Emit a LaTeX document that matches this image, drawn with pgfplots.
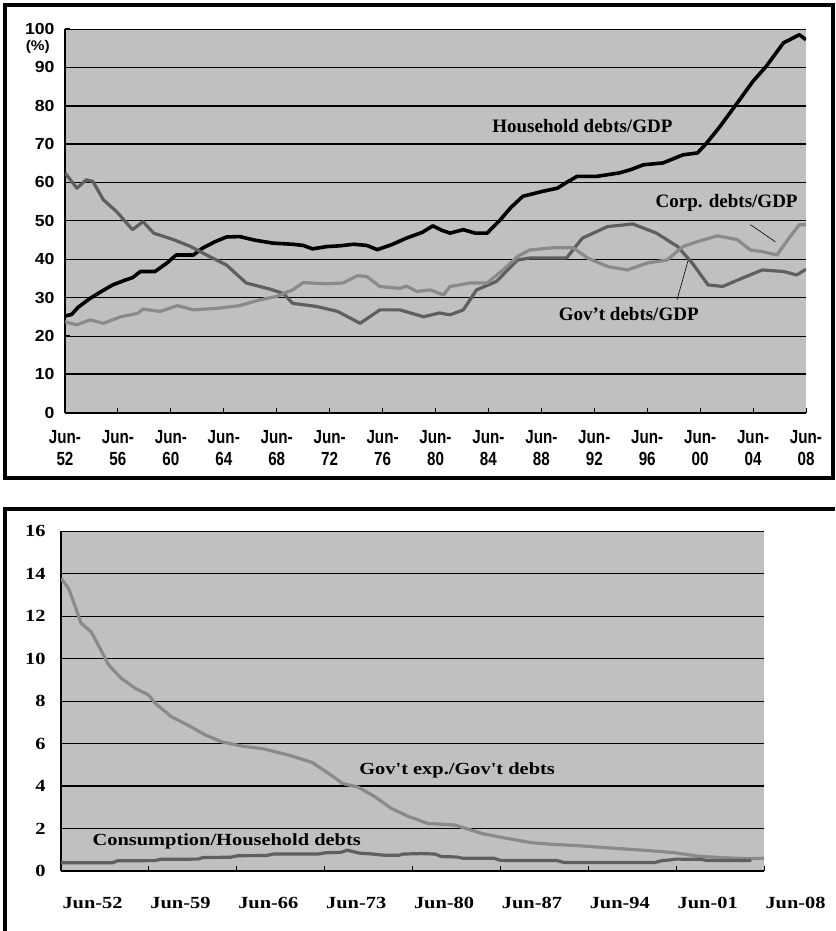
\documentclass[border=0pt]{standalone}
\usepackage{fontspec}
\usepackage{pgfplots}
\pgfplotsset{compat=1.18}
\setmainfont{Liberation Serif}
\newfontfamily\ysans[FakeStretch=1.1]{Liberation Sans}
\newfontfamily\xsans[FakeStretch=0.8]{Liberation Sans}
\newfontfamily\wserif[FakeStretch=1.2]{Liberation Serif}
\definecolor{plotbg}{HTML}{C0C0C0}
\definecolor{darkc}{HTML}{5F5F5F}
\definecolor{lightc}{HTML}{8A8A8A}

\begin{document}
\begin{tikzpicture}[x=1pt,y=1pt]
\useasboundingbox (0,0) rectangle (835,-931);

% ---------------- top panel ----------------
\begin{axis}[
  at={(65pt,-412.7pt)}, anchor=south west,
  width=741pt, height=383.7pt, scale only axis,
  xmin=1952.5, xmax=2008.5, ymin=0, ymax=100,
  axis x line*=bottom, axis y line*=left,
  axis line style={line width=1.6pt,-},
  axis background/.style={fill=plotbg},
  ymajorgrids, grid style={black, line width=0.8pt},
  ytick={0,10,...,100},
  extra y ticks={10,70,80}, extra y tick labels={},
  extra y tick style={grid style={black,line width=1.8pt}},
  xtick={1952.5,1956.5,1960.5,1964.5,1968.5,1972.5,1976.5,1980.5,1984.5,1988.5,1992.5,1996.5,2000.5,2004.5,2008.5},
  xticklabels={{Jun-\\52},{Jun-\\56},{Jun-\\60},{Jun-\\64},{Jun-\\68},{Jun-\\72},{Jun-\\76},{Jun-\\80},{Jun-\\84},{Jun-\\88},{Jun-\\92},{Jun-\\96},{Jun-\\00},{Jun-\\04},{Jun-\\08}},
  tick align=inside, major tick length=5pt, tick style={black,line width=1pt},
  /pgf/number format/assume math mode=true,
  yticklabel style={font=\ysans\bfseries\fontsize{16}{18}\selectfont, xshift=-7pt},
  xticklabel style={font=\xsans\bfseries\fontsize{19}{22}\selectfont, align=center, yshift=-14pt},
  every axis plot/.append style={line join=round},
]
\addplot[black, line width=3.6pt] coordinates {
(1952.5,25.2)(1953.0,25.6)(1953.5,27.5)(1954.4,29.8)(1955.2,31.5)(1956.1,33.3)
(1957.0,34.5)(1957.6,35.2)(1958.2,36.8)(1959.3,36.8)(1960.2,39.0)(1960.9,41.1)
(1962.2,41.1)(1962.9,42.9)(1963.8,44.5)(1964.7,45.8)(1965.7,45.9)(1966.8,45.0)
(1968.2,44.2)(1969.7,43.9)(1970.5,43.6)(1971.2,42.7)(1972.3,43.3)(1973.3,43.5)
(1974.3,43.9)(1975.3,43.6)(1976.1,42.5)(1977.2,43.8)(1978.3,45.5)(1979.5,47.0)
(1980.3,48.7)(1981.0,47.5)(1981.6,46.8)(1982.6,47.7)(1983.5,46.8)(1984.4,46.8)
(1985.4,50.3)(1986.2,53.5)(1987.1,56.4)(1988.6,57.7)(1989.7,58.5)(1990.4,60.0)
(1991.2,61.6)(1992.7,61.6)(1994.4,62.5)(1995.3,63.4)(1996.2,64.6)(1997.7,65.1)
(1999.2,67.2)(2000.3,67.7)(2001.0,70.3)(2002.0,74.6)(2003.3,80.7)(2004.5,86.4)
(2005.5,90.3)(2006.8,96.4)(2008.0,98.5)(2008.5,97.2)};
\addplot[darkc, line width=3.2pt] coordinates {
(1952.5,62.5)(1953.4,58.5)(1954.1,60.7)(1954.6,60.3)(1955.4,55.5)(1956.4,52.4)
(1957.6,47.7)(1958.4,49.8)(1959.2,46.8)(1960.7,45.1)(1962.0,43.3)(1963.2,41.1)
(1964.7,38.5)(1966.2,33.8)(1968.0,32.2)(1969.0,31.1)(1969.7,28.5)(1971.5,27.7)
(1973.1,26.4)(1974.8,23.3)(1976.3,26.8)(1977.8,26.8)(1979.6,25.0)(1980.8,26.0)
(1981.6,25.5)(1982.6,26.8)(1983.6,32.0)(1985.1,34.2)(1986.7,39.8)(1987.6,40.3)
(1990.4,40.3)(1991.6,45.5)(1993.5,48.5)(1995.4,49.2)(1997.2,46.8)(1998.8,43.3)
(1999.9,39.0)(2001.1,33.3)(2002.2,32.9)(2003.7,35.1)(2005.2,37.2)(2006.8,36.8)
(2007.8,35.9)(2008.5,37.4)};
\addplot[lightc, line width=3.2pt] coordinates {
(1952.5,23.7)(1953.4,22.9)(1954.4,24.2)(1955.4,23.3)(1956.7,25.0)(1958.0,25.9)
(1958.4,27.0)(1959.7,26.4)(1961.0,27.9)(1962.2,26.8)(1964.0,27.2)(1965.7,27.9)
(1967.2,29.4)(1968.5,30.3)(1969.7,32.0)(1970.5,33.9)(1972.3,33.6)(1973.5,33.8)
(1974.6,35.7)(1975.3,35.5)(1976.3,32.9)(1977.8,32.4)(1978.3,33.0)(1979.1,31.6)
(1980.1,32.0)(1981.1,30.7)(1981.6,32.9)(1983.1,33.8)(1984.4,33.8)(1985.6,37.2)
(1986.7,40.7)(1987.6,42.4)(1989.4,43.0)(1990.9,43.0)(1992.0,40.3)(1993.5,38.1)
(1995.0,37.2)(1996.5,39.0)(1998.0,39.8)(1999.2,43.3)(2000.3,44.6)(2001.8,46.1)
(2003.3,45.1)(2004.3,42.4)(2005.2,42.0)(2006.3,41.1)(2007.3,45.9)(2008.0,49.0)
(2008.5,49.0)};
\node[font=\bfseries\fontsize{19}{22}\selectfont] at (axis cs:1991.6,74.8) {Household debts/GDP};
\node[font=\bfseries\fontsize{19}{22}\selectfont] at (axis cs:2002.5,54.7) {Corp. debts/GDP};
\node[font=\bfseries\fontsize{19}{22}\selectfont] at (axis cs:1995.1,25.75) {Gov't debts/GDP};
\draw[black, line width=0.6pt] (axis cs:2004.3,49.0) -- (axis cs:2006.2,44.5);
\draw[black, line width=0.6pt] (axis cs:1998.75,29.4) -- (axis cs:1999.6,39.8);
\end{axis}
\node[anchor=east, inner sep=0pt, font=\ysans\bfseries\fontsize{14}{16}\selectfont] at (50,-47) {(\%)};
\draw[line width=4pt] (5,-5) rectangle (833,-478);

% ---------------- bottom panel ----------------
\begin{axis}[
  at={(61pt,-871pt)}, anchor=south west,
  width=703pt, height=340pt, scale only axis,
  xmin=1952.5, xmax=2008.5, ymin=0, ymax=16,
  axis x line*=bottom, axis y line*=left,
  axis line style={line width=1.6pt,-},
  axis background/.style={fill=plotbg},
  ymajorgrids, grid style={black, line width=0.8pt},
  ytick={0,2,...,16},
  extra y ticks={4,14}, extra y tick labels={},
  extra y tick style={grid style={black,line width=1.8pt}},
  xtick={1952.5,1959.5,1966.5,1973.5,1980.5,1987.5,1994.5,2001.5,2008.5},
  xticklabels={Jun-52,Jun-59,Jun-66,Jun-73,Jun-80,Jun-87,Jun-94,Jun-01,Jun-08},
  tick align=inside, major tick length=5pt, tick style={black,line width=1pt},
  /pgf/number format/assume math mode=true,
  yticklabel style={font=\wserif\bfseries\fontsize{17}{19}\selectfont, xshift=-12pt},
  xticklabel style={font=\wserif\bfseries\fontsize{17}{19}\selectfont, anchor=north west, xshift=-2pt, yshift=-23pt},
  every axis plot/.append style={line join=round},
]
\addplot[lightc, line width=3.2pt] coordinates {
(1952.5,13.77)(1953.1,13.3)(1953.6,12.5)(1954.1,11.66)(1954.9,11.26)(1955.5,10.6)
(1956.3,9.69)(1957.3,9.07)(1958.4,8.6)(1959.5,8.28)(1960.0,7.89)(1961.3,7.26)
(1962.6,6.87)(1964.0,6.4)(1965.3,6.08)(1966.9,5.88)(1968.7,5.74)(1970.6,5.46)
(1972.5,5.11)(1973.8,4.6)(1974.9,4.13)(1976.2,3.94)(1977.5,3.5)(1978.8,2.95)
(1980.2,2.56)(1980.6,2.48)(1981.7,2.24)(1983.9,2.16)(1986.0,1.77)(1987.6,1.58)
(1990.0,1.33)(1991.3,1.27)(1994.0,1.18)(1996.6,1.07)(1999.3,0.96)(2001.4,0.86)
(2003.2,0.70)(2005.1,0.63)(2007.2,0.58)(2008.5,0.60)};
\addplot[darkc, line width=3.2pt] coordinates {
(1952.5,0.39)(1956.6,0.39)(1957.0,0.48)(1960.0,0.49)(1960.4,0.55)(1963.4,0.56)
(1963.8,0.63)(1966.0,0.65)(1966.6,0.72)(1968.9,0.73)(1969.4,0.80)(1973.0,0.80)
(1973.6,0.86)(1974.8,0.88)(1975.3,0.98)(1975.7,0.92)(1976.3,0.84)(1977.3,0.80)
(1978.3,0.74)(1979.4,0.74)(1979.8,0.80)(1981.2,0.82)(1982.3,0.80)(1982.8,0.68)
(1984.0,0.66)(1984.5,0.60)(1987.0,0.60)(1987.5,0.50)(1992.0,0.49)(1992.6,0.40)
(1999.8,0.40)(2000.4,0.49)(2001.0,0.52)(2001.5,0.56)(2003.5,0.55)(2004.0,0.49)
(2007.5,0.49)};
\node[font=\wserif\bfseries\fontsize{17}{19}\selectfont] at (axis cs:1965.7,1.4) {Consumption/Household debts};
\node[font=\wserif\bfseries\fontsize{17}{19}\selectfont] at (axis cs:1984.05,4.75) {Gov't exp./Gov't debts};
\end{axis}
\draw[line width=4pt] (835,-509) -- (5,-509) -- (5,-931);
\end{tikzpicture}
\end{document}
